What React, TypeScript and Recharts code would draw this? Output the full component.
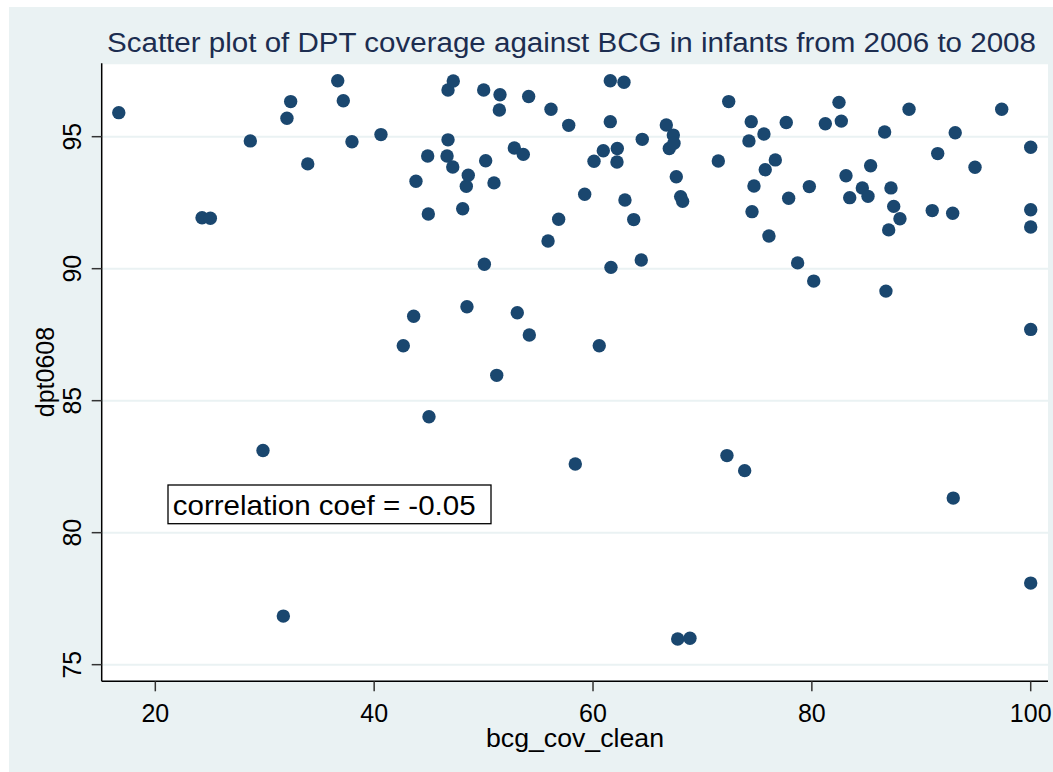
import React from 'react';
import { ScatterChart, Scatter, XAxis, YAxis, CartesianGrid } from 'recharts';

// bcg_cov_clean (x) and dpt0608 (y), one entry per country
const bcgCov = [
  16.66, 24.27, 25.03, 28.68, 29.84, 31.7, 32.03, 32.37, 33.93, 36.67,
  37.18, 37.97, 40.62, 42.66, 43.61, 43.82, 44.89, 44.95, 45.01, 46.66,
  46.75, 46.75, 47.18, 47.23, 48.09, 48.42, 48.48, 48.6, 50.01, 50.07,
  50.19, 50.95, 51.2, 51.44, 51.5, 52.81, 53.08, 53.63, 54.12, 54.18,
  55.89, 56.16, 56.86, 57.78, 58.38, 59.24, 60.09, 60.57, 60.94, 61.58,
  61.58, 61.64, 62.19, 62.22, 62.83, 62.92, 63.72, 64.41, 64.5, 66.7,
  66.97, 67.34, 67.4, 67.61, 67.74, 68.01, 68.19, 68.86, 71.45, 72.24,
  72.4, 73.86, 74.25, 74.46, 74.53, 74.71, 75.62, 75.74, 76.08, 76.66,
  77.66, 77.88, 78.7, 79.77, 80.17, 81.23, 82.48, 82.69, 83.12, 83.46,
  84.61, 85.13, 85.37, 86.65, 86.77, 87.02, 87.23, 87.48, 88.05, 88.88,
  91.0, 91.5, 92.87, 92.92, 93.1, 94.91, 97.35, 100, 100, 100,
  100, 100,
];

const dptCov = [
  95.91, 91.93, 91.91, 94.84, 83.11, 76.84, 95.7, 96.33, 93.97, 97.12,
  96.36, 94.81, 95.08, 87.08, 88.2, 93.31, 94.27, 92.07, 84.39, 94.27,
  94.88, 96.77, 93.85, 97.11, 92.27, 93.12, 88.56, 93.54, 96.77, 90.17,
  94.09, 93.25, 85.96, 96.01, 96.59, 94.57, 88.33, 94.33, 96.52, 87.49,
  91.05, 96.04, 91.87, 95.43, 82.6, 92.82, 94.07, 87.08, 94.47, 97.12,
  95.57, 90.05, 94.04, 94.55, 97.06, 92.6, 91.86, 90.33, 94.9, 95.44,
  94.55, 95.06, 94.75, 93.48, 75.97, 92.73, 92.55, 76.0, 94.08, 82.92,
  96.33, 82.35, 94.84, 95.57, 92.16, 93.13, 95.1, 93.75, 91.24, 94.12,
  95.54, 92.67, 90.22, 93.11, 89.53, 95.49, 96.3, 95.59, 93.52, 92.69,
  93.06, 92.74, 93.9, 95.18, 89.15, 91.47, 93.06, 92.36, 91.89, 96.04,
  92.2, 94.36, 92.1, 81.31, 95.15, 93.84, 96.04, 94.6, 92.23, 91.58,
  87.7, 78.09,
];

const xTicks = [20, 40, 60, 80, 100];
const yTicks = [75, 80, 85, 90, 95];

const data = bcgCov.map((x, i) => ({ bcg: x, dpt: dptCov[i] }));

const W = 1044;
const H = 765;
const BG = '#eaf2f3';
const MARKER = '#1a476f';
const FONT = 'Arial, "Liberation Sans", Helvetica, sans-serif';

const XTick = (props: any) => {
  const { x, payload } = props;
  return (
    <text x={x} y={714.7} textAnchor="middle" fontSize={25} fill="#000" fontFamily={FONT}>
      {payload.value}
    </text>
  );
};

const YTick = (props: any) => {
  const { y, payload } = props;
  return (
    <text
      x={71.7}
      y={y}
      transform={`rotate(-90, 71.7, ${y})`}
      textAnchor="middle"
      fontSize={25}
      fill="#000"
      fontFamily={FONT}
    >
      {payload.value}
    </text>
  );
};

const Dot = (props: any) => (
  <circle cx={props.cx} cy={props.cy} r={6.7} fill={MARKER} />
);

export default function App() {
  return (
    <div style={{ position: 'absolute', left: 9, top: 7, width: W, height: H, background: BG }}>
      <ScatterChart width={W} height={H} margin={{ top: 56.3, right: 5, bottom: 0, left: 0 }}>
        <CartesianGrid
          horizontal
          vertical={false}
          fill="#ffffff"
          stroke={BG}
          strokeWidth={2}
        />
        <XAxis
          type="number"
          dataKey="bcg"
          domain={[15.1, 101.58]}
          ticks={xTicks}
          allowDataOverflow
          height={90.7}
          tickSize={10}
          tick={<XTick />}
          axisLine={{ stroke: '#000', strokeWidth: 1.5 }}
          tickLine={{ stroke: '#333', strokeWidth: 1.5 }}
        />
        <YAxis
          type="number"
          dataKey="dpt"
          domain={[74.37, 97.78]}
          ticks={yTicks}
          allowDataOverflow
          width={92.7}
          tickSize={10}
          tick={<YTick />}
          axisLine={{ stroke: '#000', strokeWidth: 1.5 }}
          tickLine={{ stroke: '#333', strokeWidth: 1.5 }}
        />
        <Scatter data={data} fill={MARKER} shape={<Dot />} isAnimationActive={false} />
      </ScatterChart>
      <svg
        width={W}
        height={H}
        style={{ position: 'absolute', left: 0, top: 0, pointerEvents: 'none' }}
      >
        <text
          x={562.5}
          y={44.7}
          textAnchor="middle"
          fontSize={27}
          fill="#1c2d50"
          fontFamily={FONT}
          textLength={929}
          lengthAdjust="spacingAndGlyphs"
        >
          Scatter plot of DPT coverage against BCG in infants from 2006 to 2008
        </text>
        <text
          x={566}
          y={740.3}
          textAnchor="middle"
          fontSize={25}
          fill="#000"
          fontFamily={FONT}
          textLength={178}
          lengthAdjust="spacingAndGlyphs"
        >
          bcg_cov_clean
        </text>
        <text
          x={45}
          y={365}
          transform="rotate(-90, 45, 365)"
          textAnchor="middle"
          fontSize={25}
          fill="#000"
          fontFamily={FONT}
        >
          dpt0608
        </text>
        <rect x={159} y={478} width={323} height={38.7} fill="#fff" stroke="#000" strokeWidth={1.3} />
        <text
          x={163.7}
          y={508}
          fontSize={28}
          fill="#000"
          fontFamily={FONT}
          textLength={303}
          lengthAdjust="spacingAndGlyphs"
        >
          correlation coef = -0.05
        </text>
      </svg>
    </div>
  );
}
